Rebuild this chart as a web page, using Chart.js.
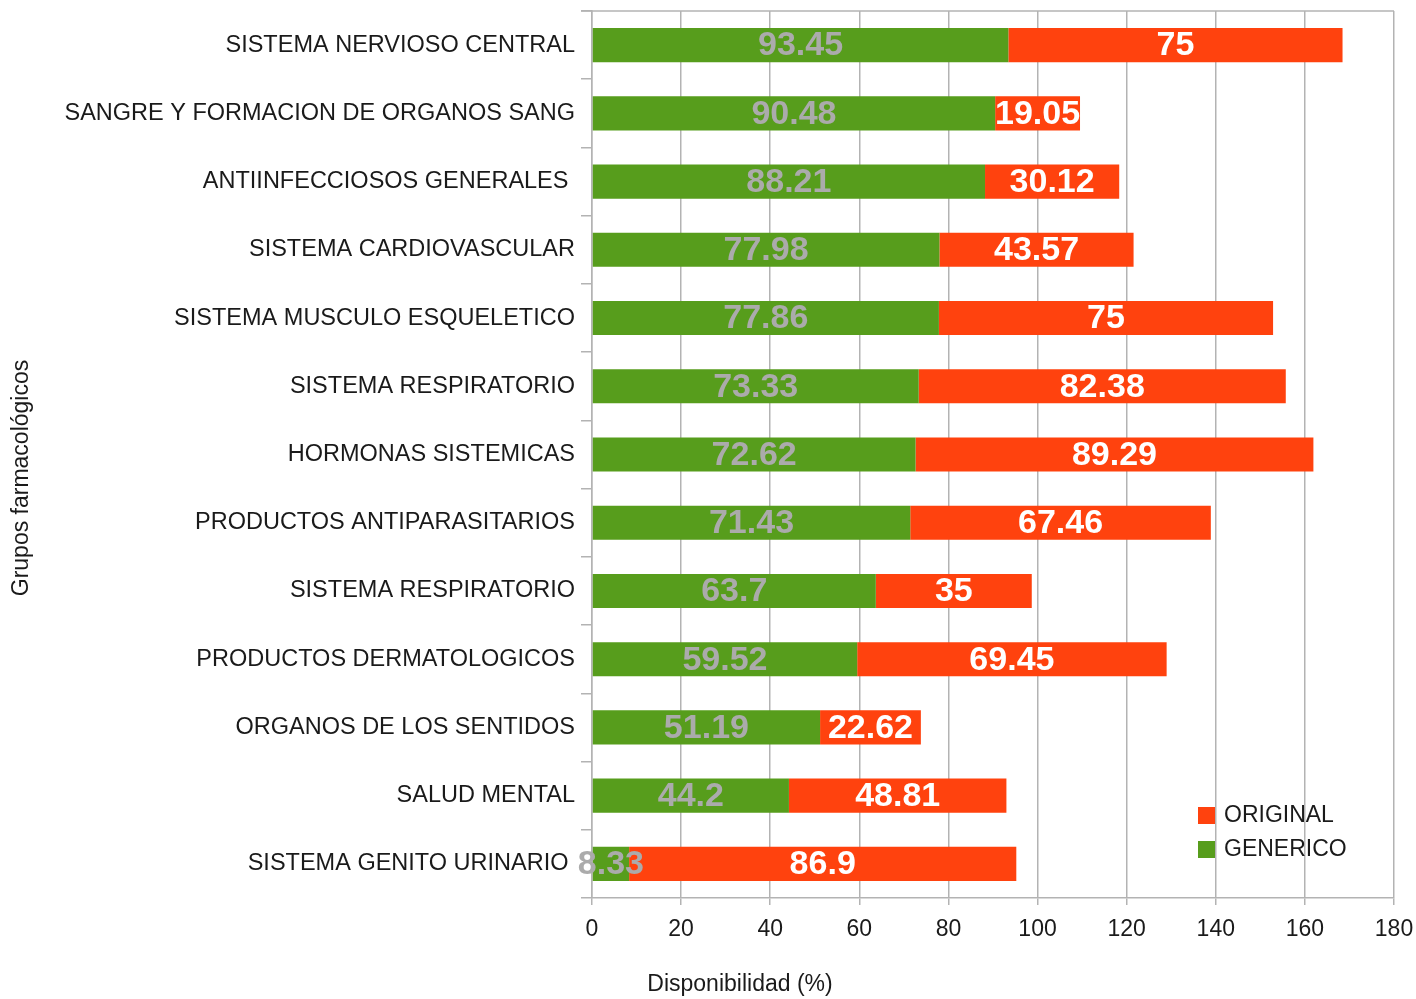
<!DOCTYPE html>
<html>
<head>
<meta charset="utf-8">
<script src="https://cdn.jsdelivr.net/npm/chart.js@4/dist/chart.umd.min.js"></script>
<style>
  html, body { margin: 0; padding: 0; background: #ffffff; }
  #wrap { width: 1416px; height: 999px; }
</style>
</head>
<body>
<div id="wrap"><canvas id="barChart" width="1416" height="999"></canvas></div>
<script>
// grupos farmacologicos (de arriba hacia abajo)
const categorias = [
    'SISTEMA NERVIOSO CENTRAL',
    'SANGRE Y FORMACION DE ORGANOS SANG',
    'ANTIINFECCIOSOS GENERALES ',
    'SISTEMA CARDIOVASCULAR',
    'SISTEMA MUSCULO ESQUELETICO',
    'SISTEMA RESPIRATORIO',
    'HORMONAS SISTEMICAS',
    'PRODUCTOS ANTIPARASITARIOS',
    'SISTEMA RESPIRATORIO',
    'PRODUCTOS DERMATOLOGICOS',
    'ORGANOS DE LOS SENTIDOS',
    'SALUD MENTAL',
    'SISTEMA GENITO URINARIO '
];
const generico = [93.45, 90.48, 88.21, 77.98, 77.86, 73.33, 72.62, 71.43, 63.7, 59.52, 51.19, 44.2, 8.33];
const original = [75, 19.05, 30.12, 43.57, 75, 82.38, 89.29, 67.46, 35, 69.45, 22.62, 48.81, 86.9];
const ticksX = [0, 20, 40, 60, 80, 100, 120, 140, 160, 180];

const FONT = "'Liberation Sans', Arial, sans-serif";
const VERDE = '#579d1c';
const ROJO = '#ff420e';
const GRIS = '#b3b3b3';
const TEXTO = '#1a1a1a';

// sin relleno extra de las escalas: el area del grafico la fija layout.padding
function sinRelleno(s) {
    s.paddingTop = 0; s.paddingBottom = 0;
    s.paddingLeft = 0; s.paddingRight = 0;
}

// etiquetas de valor centradas en cada segmento
const etiquetasPlugin = {
    id: 'etiquetas',
    afterDatasetsDraw(chart) {
        const ctx = chart.ctx;
        ctx.save();
        ctx.font = 'bold 34px ' + FONT;
        ctx.textAlign = 'center';
        ctx.textBaseline = 'middle';
        chart.data.datasets.forEach((ds, i) => {
            const meta = chart.getDatasetMeta(i);
            ctx.fillStyle = ds.labelColor;
            meta.data.forEach((bar, j) => {
                const p = bar.getProps(['x', 'y', 'base'], true);
                ctx.fillText(String(ds.data[j]), (p.x + p.base) / 2, p.y + 1);
            });
        });
        ctx.restore();
    }
};

// borde superior, titulos de ejes y leyenda
const decorPlugin = {
    id: 'decor',
    afterDraw(chart) {
        const ctx = chart.ctx;
        const a = chart.chartArea;
        ctx.save();
        ctx.strokeStyle = GRIS;
        ctx.lineWidth = 1.5;
        ctx.beginPath();
        ctx.moveTo(a.left - 11, a.top);
        ctx.lineTo(a.right, a.top);
        ctx.stroke();

        ctx.fillStyle = TEXTO;
        ctx.font = '23px ' + FONT;
        ctx.textAlign = 'center';
        ctx.textBaseline = 'middle';
        ctx.fillText('Disponibilidad (%)', 740, 985);

        ctx.save();
        ctx.translate(22, 478);
        ctx.rotate(-Math.PI / 2);
        ctx.fillText('Grupos farmacológicos', 0, 0);
        ctx.restore();

        // leyenda: ORIGINAL arriba, GENERICO abajo
        const items = [
            { text: 'ORIGINAL', color: ROJO },
            { text: 'GENERICO', color: VERDE }
        ];
        ctx.textAlign = 'left';
        items.forEach((it, k) => {
            const y = 815 + k * 34;
            ctx.fillStyle = it.color;
            ctx.fillRect(1198, y - 8, 17, 17);
            ctx.fillStyle = TEXTO;
            ctx.fillText(it.text, 1224, y + 1);
        });
        ctx.restore();
    }
};

new Chart(document.getElementById('barChart'), {
    type: 'bar',
    data: {
        labels: categorias,
        datasets: [
            {
                label: 'GENERICO',
                data: generico,
                backgroundColor: VERDE,
                labelColor: '#ababab',
                barPercentage: 0.5,
                categoryPercentage: 1
            },
            {
                label: 'ORIGINAL',
                data: original,
                backgroundColor: ROJO,
                labelColor: '#ffffff',
                barPercentage: 0.5,
                categoryPercentage: 1
            }
        ]
    },
    options: {
        indexAxis: 'y',
        responsive: false,
        animation: false,
        layout: { padding: { top: 11, right: 22, left: 0, bottom: 0 } },
        plugins: {
            legend: { display: false },
            tooltip: { enabled: false }
        },
        scales: {
            x: {
                stacked: true,
                min: 0, max: 180,
                afterFit: s => { s.height = 101; sinRelleno(s); },
                afterBuildTicks: s => { s.ticks = ticksX.map(v => ({ value: v })); },
                grid: { color: GRIS, lineWidth: 1.5, tickLength: 7 },
                border: { color: GRIS, width: 1.5 },
                ticks: { color: TEXTO, font: { family: FONT, size: 23 }, padding: 11, maxRotation: 0 }
            },
            y: {
                stacked: true,
                afterFit: s => { s.width = 592; sinRelleno(s); },
                grid: { offset: true, drawOnChartArea: false, color: GRIS, lineWidth: 1.5, tickLength: 11 },
                border: { color: GRIS, width: 1.5 },
                ticks: { color: TEXTO, font: { family: FONT, size: 23.5 }, padding: 6, autoSkip: false }
            }
        }
    },
    plugins: [etiquetasPlugin, decorPlugin]
});
</script>
</body>
</html>
